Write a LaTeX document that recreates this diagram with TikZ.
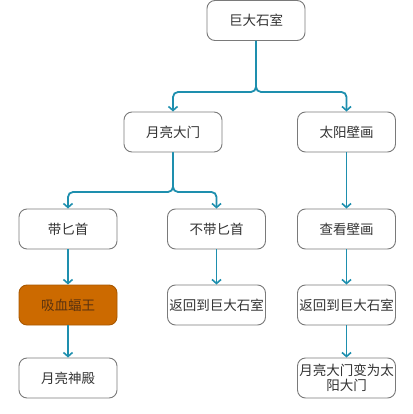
\documentclass[tikz,border=0pt]{standalone}
\usepackage{fontspec}
\setmainfont{Noto Sans CJK SC}
\usetikzlibrary{arrows.meta}
\definecolor{linec}{HTML}{1E8FAE}
\definecolor{boxline}{HTML}{7A7A7A}
\definecolor{txt}{HTML}{333333}
\definecolor{orangef}{HTML}{CC6A00}
\definecolor{oranged}{HTML}{A85800}
\definecolor{orangetxt}{HTML}{5A3210}
\begin{document}
\begin{tikzpicture}[x=1pt,y=-1pt,
  box/.style={draw=boxline,line width=0.9pt,rounded corners=8pt,fill=white,
    minimum width=98pt,minimum height=40pt,inner sep=0pt,text=txt,
    font=\fontsize{13.5}{15.5}\selectfont,align=center},
  hot/.style={box,fill=orangef,draw=oranged,text=orangetxt},
  conn/.style={draw=linec,line width=1.8pt,rounded corners=5pt,
    -{Straight Barb[length=4pt,width=9pt,line width=1.6pt]}}]
\useasboundingbox (0,0) rectangle (412,414);
\node[box] (top) at (256,20.5) {巨大石室};
\node[box] (moon) at (173,132) {月亮大门};
\node[box] (sun) at (346.5,132) {太阳壁画};
\node[box] (dag) at (68,229) {带匕首};
\node[box] (nodag) at (216.5,229) {不带匕首};
\node[box] (look) at (346.5,229) {查看壁画};
\node[hot] (bat) at (68,305) {吸血蝠王};
\node[box] (back1) at (216.5,305) {返回到巨大石室};
\node[box] (back2) at (346.5,305) {返回到巨大石室};
\node[box] (temple) at (68,378) {月亮神殿};
\node[box] (change) at (346.5,378) {月亮大门变为太\\阳大门};
\coordinate (j1) at (256,92);
\coordinate (j2) at (173,192);
\draw[conn] (top.south) -- (j1) -| (moon.north);
\draw[conn] (top.south) -- (j1) -| (sun.north);
\draw[conn] (moon.south) -- (j2) -| (dag.north);
\draw[conn] (moon.south) -- (j2) -| (nodag.north);
\draw[conn] (sun) -- (look);
\draw[conn] (dag) -- (bat);
\draw[conn] (nodag) -- (back1);
\draw[conn] (look) -- (back2);
\draw[conn] (bat) -- (temple);
\draw[conn] (back2) -- (change);
\end{tikzpicture}
\end{document}
